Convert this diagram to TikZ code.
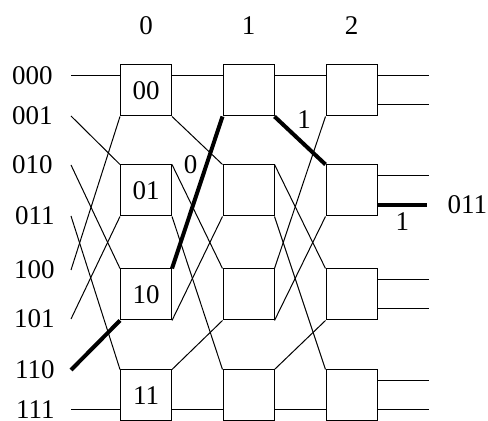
\documentclass[tikz,border=0pt]{standalone}
\usepackage{fontspec}
\setmainfont{Liberation Serif}
\usetikzlibrary{positioning}

\begin{document}
\begin{tikzpicture}[x=0.5pt, y=-0.5pt, line width=0.5pt,
        sw/.style = {draw, minimum width=25.5pt, minimum height=25.5pt, inner sep=0pt},
        lbl/.style = {inner sep=0pt, font=\fontsize{13.5}{16}\selectfont},
        hot/.style = {line width=2pt}]
        \useasboundingbox (0,0) rectangle (488,421);
        \node[sw, lbl] (b00) at (146, 90.5) {00};
        \node[sw, lbl] (b01) at (146, 190.5) {01};
        \node[sw, lbl] (b02) at (146, 294.5) {10};
        \node[sw, lbl] (b03) at (146, 395.5) {11};
        \foreach \c/\x in {1/248.5, 2/351.5}
                \foreach \r/\y in {0/90.5, 1/190.5, 2/294.5, 3/395.5}
                        \node[sw] (b\c\r) at (\x, \y) {};
        \node[lbl, above=14.5pt of b00] (t0) {0};
        \node[lbl, above=14.5pt of b10] (t1) {1};
        \node[lbl, above=14.5pt of b20] (t2) {2};
        \coordinate (p0) at (71, 76);
        \coordinate (p1) at (71, 116);
        \coordinate (p2) at (71, 165);
        \coordinate (p3) at (71, 216);
        \coordinate (p4) at (71, 270);
        \coordinate (p5) at (71, 319);
        \coordinate (p6) at (71, 370);
        \coordinate (p7) at (71, 410);
        \node[lbl, left=9pt of p0] (i0) {000};
        \node[lbl, left=9pt of p1] (i1) {001};
        \node[lbl, left=9pt of p2] (i2) {010};
        \node[lbl, left=8pt of p3] (i3) {011};
        \node[lbl, left=8pt of p4] (i4) {100};
        \node[lbl, left=8pt of p5] (i5) {101};
        \node[lbl, left=8pt of p6] (i6) {110};
        \node[lbl, left=8pt of p7] (i7) {111};
        \draw (p0) -- (p0 -| b00.west);
        \draw (p1) -- (b01.north west);
        \draw (p2) -- (b02.north west);
        \draw (p3) -- (b03.north west);
        \draw (p4) -- (b00.south west);
        \draw (p5) -- (b01.south west);
        \draw[hot] (p6) -- (b02.south west);
        \draw (p7) -- (p7 -| b03.west);
        \foreach \c/\d in {0/1, 1/2} {
                \draw (b\c0.east |- p0) -- (b\d0.west |- p0);
                \draw (b\c3.east |- p7) -- (b\d3.west |- p7);
                \draw (b\c1.north east) -- (b\d2.north west);
                \draw (b\c3.north east) -- (b\d2.south west);
                \draw (b\c1.south east) -- (b\d3.north west);
        }
        \draw (b12.north east) -- (b20.south west);
        \draw (b12.south east) -- (b21.south west);
        \draw (b02.south east) -- (b11.south west);
        \draw (b00.south east) -- (b11.north west);
        \draw[hot] (b02.north east) -- node[lbl, pos=0.68, left=3.5pt] (e0) {0} (b10.south west);
        \draw[hot] (b10.south east) -- (b21.north west);
        \node[lbl] (e1) at (304, 120) {1};
        \coordinate (o0) at (429, 76);
        \coordinate (o1) at (429, 105);
        \coordinate (o2) at (429, 176);
        \coordinate (o3) at (427, 205);
        \coordinate (o4) at (429, 280);
        \coordinate (o5) at (429, 309);
        \coordinate (o6) at (429, 381);
        \coordinate (o7) at (429, 410);
        \draw (b20.east |- o0) -- (o0);
        \draw (b20.east |- o1) -- (o1);
        \draw (b21.east |- o2) -- (o2);
        \draw[hot] (b21.east |- o3) -- node[lbl, below=3pt] (e2) {1} (o3);
        \draw (b22.east |- o4) -- (o4);
        \draw (b22.east |- o5) -- (o5);
        \draw (b23.east |- o6) -- (o6);
        \draw (b23.east |- o7) -- (o7);
        \node[lbl, right=10pt of o3] (out) {011};
\end{tikzpicture}
\end{document}
